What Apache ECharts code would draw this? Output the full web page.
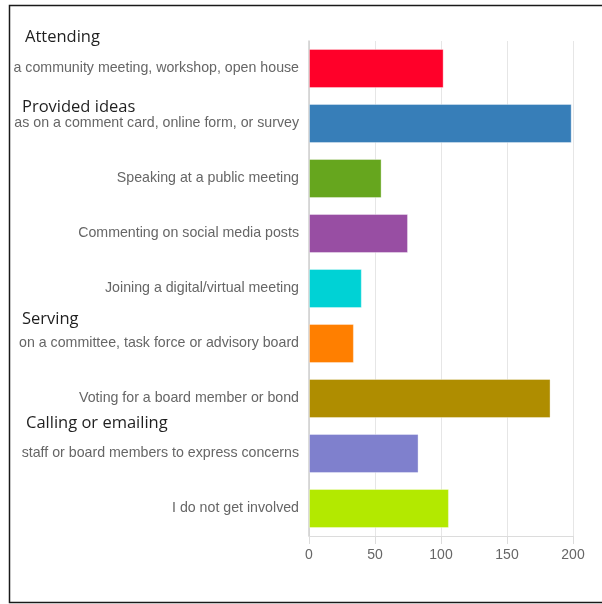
<!DOCTYPE html>
<html>
<head>
<meta charset="utf-8">
<style>
  html, body { margin: 0; padding: 0; background: #fff; }
  #chart { width: 602px; height: 604px; }
</style>
<script src="https://cdn.jsdelivr.net/npm/echarts@6/dist/echarts.min.js"></script>
</head>
<body>
<div id="chart"></div>
<script>
// Ways respondents take part
const categories = [
  'a community meeting, workshop, open house',
  'as on a comment card, online form, or survey',
  'Speaking at a public meeting',
  'Commenting on social media posts',
  'Joining a digital/virtual meeting',
  'on a committee, task force or advisory board',
  'Voting for a board member or bond',
  'staff or board members to express concerns',
  'I do not get involved'
];
const counts = [102, 199, 55, 75, 40, 34, 183, 83, 106];
const barColors = ['#ff0029', '#377eb8', '#66a61e', '#984ea3', '#00d2d5',
                   '#ff7f00', '#af8d00', '#7f80cd', '#b3e900'];
const xTicks = [0, 50, 100, 150, 200];

// Group headings written over the label column
const groupHeadings = [
  { text: 'Attending', x: 25, y: 37 },
  { text: 'Provided ideas', x: 22, y: 107 },
  { text: 'Serving', x: 22, y: 319 },
  { text: 'Calling or emailing', x: 26, y: 423 }
];

const chart = echarts.init(document.getElementById('chart'), null, { renderer: 'canvas' });

const labelFont = '"Liberation Sans", Arial, sans-serif';

chart.setOption({
  animation: false,
  backgroundColor: '#ffffff',
  grid: { left: 309, right: 29, top: 41, bottom: 68, containLabel: false },
  xAxis: {
    type: 'value',
    min: xTicks[0],
    max: xTicks[xTicks.length - 1],
    interval: xTicks[1] - xTicks[0],
    axisLine: { show: true, lineStyle: { color: '#dcdcdc', width: 1 } },
    axisTick: { show: true, length: 8, lineStyle: { color: '#dcdcdc' } },
    splitLine: { show: true, lineStyle: { color: '#e6e6e6', width: 1 } },
    axisLabel: { color: '#666', fontSize: 14, fontFamily: labelFont, margin: 10, padding: [2, 0, 0, 0] }
  },
  yAxis: {
    type: 'category',
    data: categories,
    inverse: true,
    axisLine: { show: true, lineStyle: { color: '#cfcfcf', width: 1.5 } },
    axisTick: { show: false },
    splitLine: { show: false },
    axisLabel: { color: '#666', fontSize: 14.2, fontFamily: labelFont, margin: 10, padding: [4, 0, 0, 0] }
  },
  series: [{
    type: 'bar',
    barWidth: 39,
    data: counts.map((v, i) => ({
      value: v,
      itemStyle: {
        color: barColors[i],
        borderColor: 'rgba(255,255,255,0.35)',
        borderWidth: 1
      }
    }))
  }],
  graphic: [
    {
      type: 'rect',
      silent: true,
      z: 100,
      shape: { x: 9.5, y: 5.5, width: 620, height: 597 },
      style: { fill: 'none', stroke: '#1a1a1a', lineWidth: 1.5 }
    }
  ].concat(groupHeadings.map(h => ({
    type: 'text',
    silent: true,
    z: 100,
    x: h.x,
    y: h.y,
    style: {
      text: h.text,
      fill: '#1f1f1f',
      font: '16.5px "Open Sans", "Noto Sans", sans-serif',
      textVerticalAlign: 'middle',
      verticalAlign: 'middle'
    }
  })))
});
</script>
</body>
</html>
